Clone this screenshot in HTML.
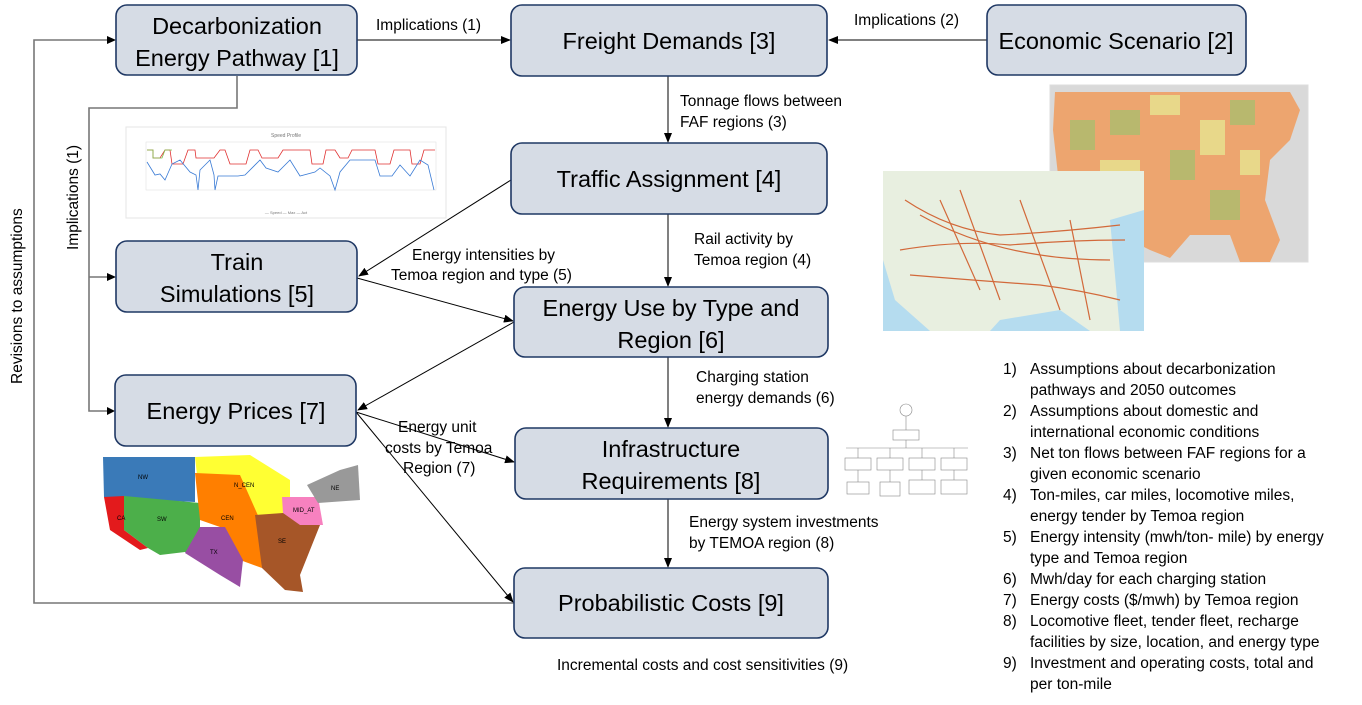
<!DOCTYPE html>
<html><head><meta charset="utf-8"><style>
body{margin:0;background:#fff;}
svg{display:block;font-family:"Liberation Sans",sans-serif;}
.bx{fill:#d6dce5;stroke:#1f3864;stroke-width:1.6;}
.bt{font-size:23.5px;fill:#000;text-anchor:middle;}
.lb{font-size:15.5px;fill:#000;}
.ln{stroke:#000;stroke-width:1;fill:none;}
.gl{stroke:#777;stroke-width:1.6;fill:none;}
.li{font-size:15.5px;fill:#000;}
</style></head><body>
<svg width="1362" height="705" viewBox="0 0 1362 705">
<defs><marker id="a" markerWidth="10" markerHeight="8" refX="9" refY="4" orient="auto" markerUnits="userSpaceOnUse"><path d="M0,0 L10,4 L0,8z" fill="#000"/></marker></defs>

<g>
<rect x="126" y="127" width="320" height="91" fill="#fff" stroke="#e5e5e5"/>
<text x="286" y="137" font-size="5" text-anchor="middle" fill="#777">Speed Profile</text>
<rect x="146" y="142" width="290" height="48" fill="none" stroke="#ddd" stroke-width="0.5"/>
<polyline points="147,150 153,150 153,158 160,158 165,150 170,150 172,164 183,164 188,150 195,150 196,158 214,158 220,150 225,150 230,164 246,164 250,150 258,150 262,158 278,158 283,150 310,150 312,164 323,164 326,150 335,150 340,158 348,158 352,150 375,150 378,164 390,164 394,150 410,150 412,164 420,164 424,150 435,150" fill="none" stroke="#e03030" stroke-width="0.8"/>
<polyline points="147,150 153,150 153,158 162,158 165,150 172,150" fill="none" stroke="#7cc04a" stroke-width="0.8"/>
<polyline points="147,162 155,175 160,174 165,180 172,164 180,160 190,172 196,175 198,190 200,170 210,160 214,175 215,190 218,176 228,176 238,176 245,175 260,160 266,168 278,172 290,160 300,176 315,172 320,168 330,176 335,190 340,172 350,160 375,160 380,176 392,176 400,165 410,176 420,160 428,165 434,190" fill="none" stroke="#3a7bd5" stroke-width="0.8"/>
<text x="286" y="214" font-size="4" text-anchor="middle" fill="#777">— Speed — Max — Act</text>
</g>

<g>
<rect x="1050" y="85" width="258" height="177" fill="#d9d9d9" stroke="#ddd"/>
<path d="M1055,92 L1290,92 L1300,110 L1290,140 L1270,160 L1265,200 L1280,240 L1270,262 L1240,262 L1230,235 L1190,235 L1170,258 L1150,250 L1130,240 L1110,215 L1070,210 L1058,175 L1053,130z" fill="#eda56f"/>
<rect x="1110" y="110" width="30" height="25" fill="#b8b86e"/>
<rect x="1150" y="95" width="30" height="20" fill="#e8d88a"/>
<rect x="1100" y="160" width="40" height="30" fill="#e8d88a"/>
<rect x="1170" y="150" width="25" height="30" fill="#b8b86e"/>
<rect x="1200" y="120" width="25" height="35" fill="#e8d88a"/>
<rect x="1210" y="190" width="30" height="30" fill="#b8b86e"/>
<rect x="1070" y="120" width="25" height="30" fill="#b8b86e"/>
<rect x="1240" y="150" width="20" height="25" fill="#e8d88a"/>
<rect x="1230" y="100" width="25" height="25" fill="#b8b86e"/>
</g>

<g>
<rect x="883" y="171" width="261" height="160" fill="#e8efe0"/>
<path d="M883,260 L895,300 L930,331 L883,331z" fill="#b5dcef"/>
<path d="M1000,320 L1060,310 L1090,331 L990,331z" fill="#b5dcef"/>
<path d="M1110,220 L1144,210 L1144,331 L1120,331z" fill="#b5dcef"/>
<g stroke="#d2693a" fill="none" stroke-width="1.2">
<path d="M905,200 Q950,230 1000,235 Q1060,232 1120,225"/>
<path d="M900,250 Q960,240 1010,245 Q1070,240 1125,240"/>
<path d="M910,275 Q970,280 1040,285 Q1080,290 1120,300"/>
<path d="M960,190 L1000,300 M1020,200 L1060,310 M1070,220 L1090,320 M940,200 L980,290"/>
<path d="M920,215 Q1000,260 1110,260"/>
</g>
</g>

<g stroke="#888" fill="#fff" stroke-width="0.6" font-size="4">
<circle cx="906" cy="410" r="6"/>
<rect x="893" y="430" width="26" height="10"/>
<line x1="906" y1="416" x2="906" y2="430"/>
<line x1="906" y1="440" x2="906" y2="448"/>
<line x1="846" y1="448" x2="968" y2="448"/>
<rect x="845" y="458" width="26" height="12"/><rect x="877" y="458" width="26" height="12"/>
<rect x="909" y="458" width="26" height="12"/><rect x="941" y="458" width="26" height="12"/>
<line x1="858" y1="448" x2="858" y2="458"/><line x1="890" y1="448" x2="890" y2="458"/><line x1="922" y1="448" x2="922" y2="458"/><line x1="954" y1="448" x2="954" y2="458"/>
<rect x="847" y="482" width="22" height="12"/><rect x="880" y="482" width="20" height="14"/>
<rect x="909" y="480" width="26" height="14"/><rect x="941" y="480" width="26" height="14"/>
<line x1="858" y1="470" x2="858" y2="482"/><line x1="890" y1="470" x2="890" y2="482"/><line x1="922" y1="470" x2="922" y2="480"/><line x1="954" y1="470" x2="954" y2="480"/>
</g>

<g font-size="6" fill="#000">
<polygon points="103,457 195,457 195,502 148,500 104,497" fill="#3a7ab8"/>
<polygon points="104,497 124,496 124,530 148,548 140,550 110,530" fill="#e31a1c"/>
<polygon points="124,496 200,503 200,553 185,552 160,555 148,548 124,530" fill="#4caf4a"/>
<polygon points="195,457 250,455 290,480 290,523 260,520 200,502" fill="#ffff33"/>
<polygon points="195,473 240,475 260,520 262,568 240,560 220,527 200,520" fill="#ff7f00"/>
<polygon points="200,527 225,527 243,560 240,587 220,575 185,553" fill="#984ea3"/>
<polygon points="255,515 283,513 320,525 310,550 300,575 303,592 285,590 262,568" fill="#a65628"/>
<polygon points="282,497 318,497 323,525 300,525 283,513" fill="#f781bf"/>
<polygon points="307,485 340,470 358,465 360,500 318,503" fill="#999"/>
<text x="138" y="479">NW</text><text x="117" y="520">CA</text><text x="157" y="521">SW</text>
<text x="234" y="487">N_CEN</text><text x="221" y="520">CEN</text><text x="210" y="554">TX</text>
<text x="278" y="543">SE</text><text x="293" y="512">MID_AT</text><text x="331" y="490">NE</text>
</g>

<polyline class="gl" points="514,603 34,603 34,40 108,40"/>
<polyline class="gl" points="237,76 237,108 89,108 89,411 107,411"/>
<line class="gl" x1="89" y1="277" x2="107" y2="277"/>
<path d="M107,36 L116,40 L107,44z M107,273 L116,277 L107,281z M107,407 L115,411 L107,415z" fill="#000"/>

<line class="ln" x1="357" y1="40" x2="510" y2="40" marker-end="url(#a)"/>
<line class="ln" x1="987" y1="40" x2="829" y2="40" marker-end="url(#a)"/>
<line class="ln" x1="668" y1="76" x2="668" y2="142" marker-end="url(#a)"/>
<line class="ln" x1="511" y1="180" x2="359" y2="276" marker-end="url(#a)"/>
<line class="ln" x1="357" y1="278" x2="513" y2="321" marker-end="url(#a)"/>
<line class="ln" x1="668" y1="214" x2="668" y2="286" marker-end="url(#a)"/>
<line class="ln" x1="514" y1="322" x2="358" y2="410" marker-end="url(#a)"/>
<line class="ln" x1="668" y1="357" x2="668" y2="427" marker-end="url(#a)"/>
<line class="ln" x1="356" y1="412" x2="514" y2="462" marker-end="url(#a)"/>
<line class="ln" x1="356" y1="412" x2="513" y2="602" marker-end="url(#a)"/>
<line class="ln" x1="668" y1="499" x2="668" y2="567" marker-end="url(#a)"/>

<rect class="bx" x="116" y="5" width="241" height="70" rx="11"/>
<text class="bt" x="237" y="34">Decarbonization</text><text class="bt" x="237" y="66">Energy Pathway [1]</text>
<rect class="bx" x="511" y="5" width="316" height="71" rx="11"/>
<text class="bt" x="669" y="49">Freight Demands [3]</text>
<rect class="bx" x="987" y="5" width="259" height="70" rx="11"/>
<text class="bt" x="1116" y="49">Economic Scenario [2]</text>
<rect class="bx" x="511" y="143" width="316" height="71" rx="11"/>
<text class="bt" x="669" y="187">Traffic Assignment [4]</text>
<rect class="bx" x="116" y="241" width="241" height="71" rx="11"/>
<text class="bt" x="237" y="270">Train</text><text class="bt" x="237" y="302">Simulations [5]</text>
<rect class="bx" x="514" y="287" width="314" height="70" rx="11"/>
<text class="bt" x="671" y="316">Energy Use by Type and</text><text class="bt" x="671" y="348">Region [6]</text>
<rect class="bx" x="115" y="375" width="241" height="71" rx="11"/>
<text class="bt" x="236" y="419">Energy Prices [7]</text>
<rect class="bx" x="515" y="428" width="313" height="71" rx="11"/>
<text class="bt" x="671" y="457">Infrastructure</text><text class="bt" x="671" y="489">Requirements [8]</text>
<rect class="bx" x="514" y="568" width="314" height="70" rx="11"/>
<text class="bt" x="671" y="611">Probabilistic Costs [9]</text>

<text class="lb" x="376" y="30">Implications (1)</text>
<text class="lb" x="854" y="25">Implications (2)</text>
<text class="lb" x="680" y="106">Tonnage flows between</text>
<text class="lb" x="680" y="127">FAF regions (3)</text>
<text class="lb" x="694" y="244">Rail activity by</text>
<text class="lb" x="694" y="265">Temoa region (4)</text>
<text class="lb" x="412" y="260">Energy intensities by</text>
<text class="lb" x="391" y="280">Temoa region and type (5)</text>
<text class="lb" x="696" y="382">Charging station</text>
<text class="lb" x="696" y="403">energy demands (6)</text>
<text class="lb" x="398" y="432">Energy unit</text>
<text class="lb" x="385" y="453">costs by Temoa</text>
<text class="lb" x="403" y="473">Region (7)</text>
<text class="lb" x="689" y="527">Energy system investments</text>
<text class="lb" x="689" y="548">by TEMOA region (8)</text>
<text class="lb" x="557" y="670">Incremental costs and cost sensitivities (9)</text>
<text class="lb" transform="translate(78,250) rotate(-90)">Implications (1)</text>
<text class="lb" transform="translate(22,384) rotate(-90)">Revisions to assumptions</text>

<g class="li">
<text x="1003" y="374">1)</text><text x="1030" y="374">Assumptions about decarbonization</text>
<text x="1030" y="395">pathways and 2050 outcomes</text>
<text x="1003" y="416">2)</text><text x="1030" y="416">Assumptions about domestic and</text>
<text x="1030" y="437">international economic conditions</text>
<text x="1003" y="458">3)</text><text x="1030" y="458">Net ton flows between FAF regions for a</text>
<text x="1030" y="479">given economic scenario</text>
<text x="1003" y="500">4)</text><text x="1030" y="500">Ton-miles, car miles, locomotive miles,</text>
<text x="1030" y="521">energy tender by Temoa region</text>
<text x="1003" y="542">5)</text><text x="1030" y="542">Energy intensity (mwh/ton- mile) by energy</text>
<text x="1030" y="563">type and Temoa region</text>
<text x="1003" y="584">6)</text><text x="1030" y="584">Mwh/day for each charging station</text>
<text x="1003" y="605">7)</text><text x="1030" y="605">Energy costs ($/mwh) by Temoa region</text>
<text x="1003" y="626">8)</text><text x="1030" y="626">Locomotive fleet, tender fleet, recharge</text>
<text x="1030" y="647">facilities by size, location, and energy type</text>
<text x="1003" y="668">9)</text><text x="1030" y="668">Investment and operating costs, total and</text>
<text x="1030" y="689">per ton-mile</text>
</g>
</svg>
</body></html>
